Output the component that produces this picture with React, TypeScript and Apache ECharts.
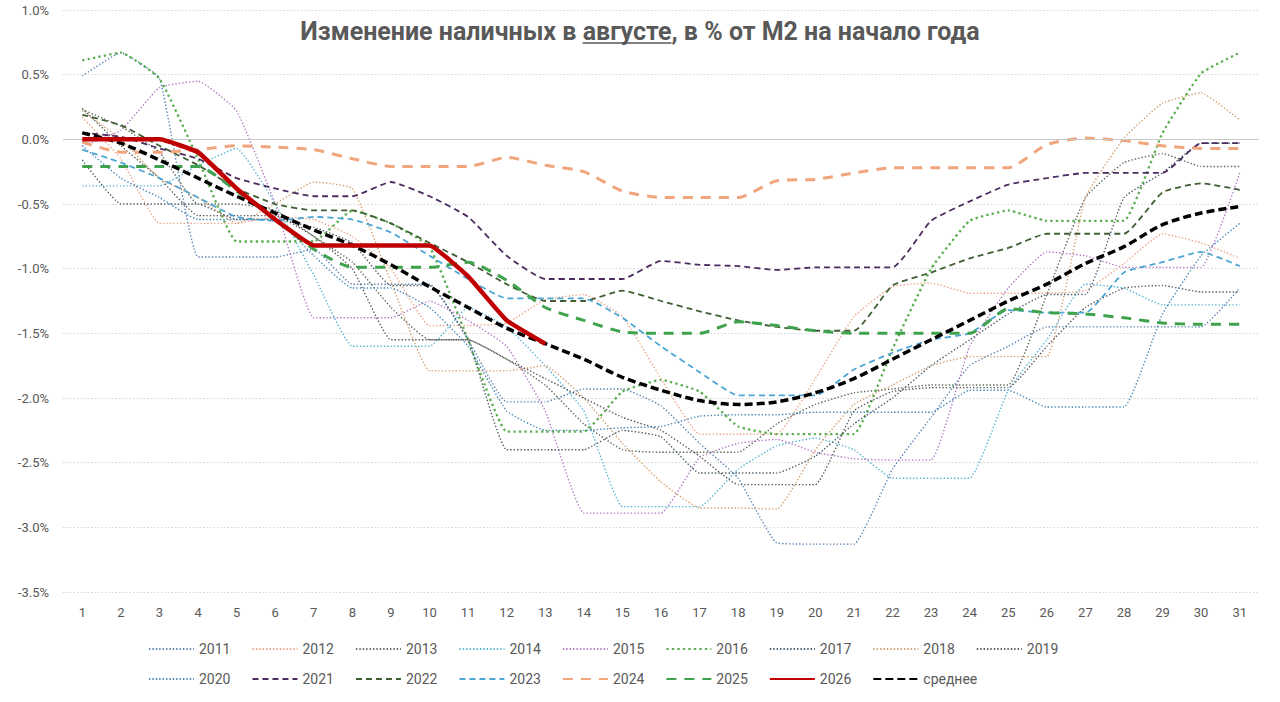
import React, { useEffect, useRef } from "react";
import * as echarts from "echarts";

const days = ["1","2","3","4","5","6","7","8","9","10","11","12","13","14","15","16","17","18","19","20","21","22","23","24","25","26","27","28","29","30","31"];

const y2011 = [0.49,0.67,0.47,-0.91,-0.91,-0.91,-0.85,-1.12,-1.12,-1.12,-1.55,-2.03,-2.03,-1.93,-1.93,-2.06,-2.35,-2.62,-3.12,-3.13,-3.13,-2.55,-2.15,-1.75,-1.6,-1.45,-1.45,-1.45,-1.45,-1.45,-1.15];
const y2012 = [0.17,-0.15,-0.65,-0.65,-0.65,-0.6,-0.62,-0.75,-1.0,-1.44,-1.44,-1.42,-1.24,-1.2,-1.37,-1.85,-2.28,-2.28,-2.28,-1.85,-1.37,-1.14,-1.11,-1.19,-1.19,-1.19,-1.17,-0.96,-0.73,-0.8,-0.92];
const y2013 = [0.23,0.1,-0.1,-0.5,-0.5,-0.55,-0.75,-0.95,-1.3,-1.55,-1.55,-1.7,-1.9,-2.2,-2.4,-2.42,-2.42,-2.42,-2.2,-2.05,-1.96,-1.93,-1.9,-1.9,-1.9,-1.2,-0.45,-0.18,-0.11,-0.21,-0.21];
const y2014 = [-0.36,-0.36,-0.36,-0.2,-0.07,-0.5,-1.05,-1.6,-1.6,-1.6,-1.3,-1.45,-1.75,-2.1,-2.84,-2.84,-2.84,-2.55,-2.37,-2.31,-2.4,-2.62,-2.62,-2.62,-1.94,-1.55,-1.12,-1.15,-1.28,-1.28,-1.28];
const y2015 = [-0.05,0.07,0.4,0.45,0.22,-0.5,-1.38,-1.38,-1.38,-1.25,-1.4,-1.6,-2.1,-2.89,-2.89,-2.89,-2.46,-2.35,-2.32,-2.42,-2.47,-2.48,-2.48,-1.6,-1.15,-0.87,-0.9,-0.99,-0.99,-0.99,-0.26];
const y2016 = [0.61,0.67,0.47,-0.15,-0.79,-0.79,-0.79,-0.55,-0.65,-0.83,-1.55,-2.26,-2.26,-2.26,-1.95,-1.86,-1.95,-2.22,-2.28,-2.28,-2.28,-1.62,-1.0,-0.63,-0.55,-0.63,-0.63,-0.63,0.05,0.51,0.67];
const y2017 = [-0.16,-0.5,-0.5,-0.5,-0.62,-0.62,-0.68,-0.8,-1.13,-1.13,-1.55,-2.4,-2.4,-2.4,-2.25,-2.3,-2.58,-2.58,-2.58,-2.45,-2.2,-2.0,-1.75,-1.55,-1.35,-1.2,-1.2,-0.45,-0.26,-0.03,-0.03];
const y2018 = [0.22,0.0,-0.3,-0.45,-0.65,-0.5,-0.33,-0.38,-1.1,-1.79,-1.79,-1.79,-1.75,-2.0,-2.35,-2.65,-2.85,-2.85,-2.86,-2.4,-2.05,-1.9,-1.75,-1.68,-1.68,-1.68,-0.45,0.01,0.28,0.36,0.15];
const y2019 = [0.24,-0.05,-0.3,-0.59,-0.59,-0.59,-0.75,-1.0,-1.55,-1.55,-1.55,-1.7,-1.85,-2.0,-2.15,-2.25,-2.45,-2.67,-2.67,-2.67,-2.1,-1.95,-1.92,-1.92,-1.92,-1.6,-1.3,-1.15,-1.13,-1.18,-1.18];
const y2020 = [-0.05,-0.3,-0.45,-0.62,-0.62,-0.62,-0.9,-1.15,-1.15,-1.3,-1.6,-2.1,-2.25,-2.25,-2.23,-2.22,-2.14,-2.13,-2.13,-2.11,-2.11,-2.11,-2.11,-1.94,-1.94,-2.07,-2.07,-2.07,-1.35,-0.9,-0.65];
const y2021 = [0.05,0.02,-0.07,-0.15,-0.3,-0.38,-0.44,-0.44,-0.33,-0.44,-0.6,-0.9,-1.08,-1.08,-1.08,-0.94,-0.97,-0.98,-1.01,-0.99,-0.99,-0.99,-0.63,-0.48,-0.35,-0.3,-0.26,-0.26,-0.26,-0.03,-0.03];
const y2022 = [0.19,0.11,-0.05,-0.2,-0.38,-0.5,-0.55,-0.55,-0.65,-0.8,-0.95,-1.12,-1.25,-1.25,-1.17,-1.25,-1.33,-1.4,-1.45,-1.48,-1.48,-1.13,-1.03,-0.92,-0.84,-0.73,-0.73,-0.73,-0.41,-0.34,-0.39];
const y2023 = [-0.08,-0.18,-0.3,-0.45,-0.6,-0.63,-0.6,-0.62,-0.72,-0.9,-1.08,-1.23,-1.23,-1.23,-1.38,-1.6,-1.8,-1.98,-1.98,-1.98,-1.78,-1.65,-1.55,-1.5,-1.32,-1.34,-1.34,-1.03,-0.95,-0.87,-0.98];
const y2024 = [-0.02,-0.1,-0.1,-0.08,-0.05,-0.06,-0.08,-0.15,-0.21,-0.21,-0.21,-0.14,-0.2,-0.25,-0.4,-0.45,-0.45,-0.45,-0.32,-0.31,-0.26,-0.22,-0.22,-0.22,-0.22,-0.04,0.01,-0.01,-0.05,-0.07,-0.07];
const y2025 = [-0.21,-0.21,-0.21,-0.21,-0.4,-0.62,-0.85,-0.99,-0.99,-0.99,-0.95,-1.09,-1.3,-1.4,-1.49,-1.5,-1.5,-1.41,-1.44,-1.48,-1.5,-1.5,-1.5,-1.5,-1.31,-1.34,-1.35,-1.38,-1.42,-1.43,-1.43];
const y2026 = [0.0,0.0,0.0,-0.1,-0.38,-0.62,-0.82,-0.82,-0.82,-0.82,-1.06,-1.4,-1.58];
const yMean = [0.05,-0.03,-0.16,-0.3,-0.44,-0.57,-0.7,-0.82,-0.97,-1.14,-1.3,-1.46,-1.58,-1.7,-1.84,-1.94,-2.02,-2.05,-2.03,-1.96,-1.85,-1.7,-1.55,-1.4,-1.25,-1.12,-0.96,-0.83,-0.66,-0.57,-0.52];

const yTicks = ["1.0%","0.5%","0.0%","-0.5%","-1.0%","-1.5%","-2.0%","-2.5%","-3.0%","-3.5%"];

const TITLE_PRE = "Изменение наличных в ";
const TITLE_WORD = "августе";
const TITLE_POST = ", в % от М2 на начало года";

const FONT = "Roboto, 'Noto Sans', sans-serif";
const GREY = "#595959";

type Def = { name: string; data: number[]; color: string; width: number; dash: any; z: number; smooth: number };

const defs: Def[] = [
  { name: "2011", data: y2011, color: "#5B84B1", width: 1.4, dash: [1.4, 2], z: 2, smooth: 0.12 },
  { name: "2012", data: y2012, color: "#EDA58A", width: 1.4, dash: [1.4, 2], z: 2, smooth: 0.12 },
  { name: "2013", data: y2013, color: "#5E6B58", width: 1.4, dash: [1.4, 2], z: 2, smooth: 0.12 },
  { name: "2014", data: y2014, color: "#55B6D4", width: 1.4, dash: [1.4, 2], z: 2, smooth: 0.12 },
  { name: "2015", data: y2015, color: "#B27CC4", width: 1.4, dash: [1.4, 2], z: 2, smooth: 0.12 },
  { name: "2016", data: y2016, color: "#5AAE4F", width: 2.3, dash: [2.3, 3.2], z: 2, smooth: 0.12 },
  { name: "2017", data: y2017, color: "#4A5E6B", width: 1.4, dash: [1.4, 2], z: 2, smooth: 0.12 },
  { name: "2018", data: y2018, color: "#D3A070", width: 1.4, dash: [1.4, 2], z: 2, smooth: 0.12 },
  { name: "2019", data: y2019, color: "#5A5A5A", width: 1.4, dash: [1.4, 2], z: 2, smooth: 0.12 },
  { name: "2020", data: y2020, color: "#4A8AB8", width: 1.4, dash: [1.4, 2], z: 2, smooth: 0.12 },
  { name: "2021", data: y2021, color: "#4B2C5E", width: 1.8, dash: [6, 4], z: 3, smooth: 0.15 },
  { name: "2022", data: y2022, color: "#3F5E34", width: 1.8, dash: [6, 4], z: 3, smooth: 0.15 },
  { name: "2023", data: y2023, color: "#4DA6D3", width: 1.8, dash: [6, 4], z: 3, smooth: 0.15 },
  { name: "2024", data: y2024, color: "#F0A57C", width: 3, dash: [10, 8], z: 4, smooth: 0.2 },
  { name: "2025", data: y2025, color: "#3FA34D", width: 3, dash: [10, 8], z: 4, smooth: 0.2 },
  { name: "среднее", data: yMean, color: "#000000", width: 3.5, dash: [8, 4], z: 5, smooth: 0.3 },
  { name: "2026", data: y2026, color: "#C00000", width: 4.5, dash: "solid", z: 6, smooth: 0.1 },
];

const row1 = ["2011","2012","2013","2014","2015","2016","2017","2018","2019"];
const row2 = ["2020","2021","2022","2023","2024","2025","2026","среднее"];

export default function App() {
  const ref = useRef<HTMLDivElement>(null);
  useEffect(() => {
    if (!ref.current) return;
    const chart = echarts.init(ref.current, undefined, { renderer: "svg" });

    const titleFont = `bold 25px Roboto`;
    const cv = document.createElement("canvas").getContext("2d")!;
    cv.font = titleFont;
    const full = cv.measureText(TITLE_PRE + TITLE_WORD + TITLE_POST).width;
    const pre = cv.measureText(TITLE_PRE).width;
    const word = cv.measureText(TITLE_WORD).width;
    const tx = 640 - full / 2;
    const ty = 31;

    const series: any[] = defs.map((d, i) => ({
      name: d.name,
      type: "line",
      data: d.data,
      symbol: "none",
      smooth: d.smooth,
      z: d.z,
      lineStyle: { color: d.color, width: d.width, type: d.dash, cap: "butt" },
      itemStyle: { color: d.color },
      ...(i === 0
        ? {
            markLine: {
              silent: true,
              symbol: "none",
              label: { show: false },
              lineStyle: { color: "#C8C8C8", type: "solid", width: 1.2 },
              data: [{ yAxis: 0 }],
            },
          }
        : {}),
    }));

    const legendBase = {
      left: 143,
      itemWidth: 45,
      itemHeight: 12,
      itemGap: 21,
      itemStyle: { opacity: 0 },
      textStyle: { color: GREY, fontSize: 14, fontFamily: FONT, width: 40 },
      selectedMode: false,
    };

    chart.setOption({
      animation: false,
      backgroundColor: "#ffffff",
      grid: { left: 63, right: 21, top: 10, bottom: 110, containLabel: false },
      xAxis: {
        type: "category",
        data: days,
        boundaryGap: true,
        axisLine: { show: false },
        axisTick: { show: false },
        axisLabel: { color: GREY, fontSize: 13, fontFamily: FONT, margin: 14 },
      },
      yAxis: {
        type: "value",
        min: -3.5,
        max: 1.0,
        interval: 0.5,
        axisLine: { show: false },
        axisTick: { show: false },
        axisLabel: {
          color: GREY,
          fontSize: 13,
          fontFamily: FONT,
          margin: 14,
          formatter: (v: number) => {
            const idx = Math.round((1.0 - v) / 0.5);
            return yTicks[idx] ?? v.toFixed(1) + "%";
          },
        },
        splitLine: { lineStyle: { color: "#D5D5D5", type: [1.5, 2], width: 1 } },
      },
      legend: [
        { ...legendBase, top: 637, data: row1 },
        { ...legendBase, top: 667, data: row2 },
      ],
      graphic: [
        {
          type: "text",
          x: tx,
          y: ty,
          style: {
            text: TITLE_PRE + TITLE_WORD + TITLE_POST,
            font: titleFont,
            fill: GREY,
            textAlign: "left",
            textVerticalAlign: "middle",
          },
          z: 10,
        },
        {
          type: "line",
          shape: { x1: tx + pre, y1: ty + 12, x2: tx + pre + word, y2: ty + 12 },
          style: { stroke: GREY, lineWidth: 1.6 },
          z: 10,
        },
      ],
      series,
    });
    return () => chart.dispose();
  }, []);
  return (
    <div
      ref={ref}
      style={{ position: "fixed", left: 0, top: 0, width: 1280, height: 702, background: "#fff" }}
    />
  );
}
